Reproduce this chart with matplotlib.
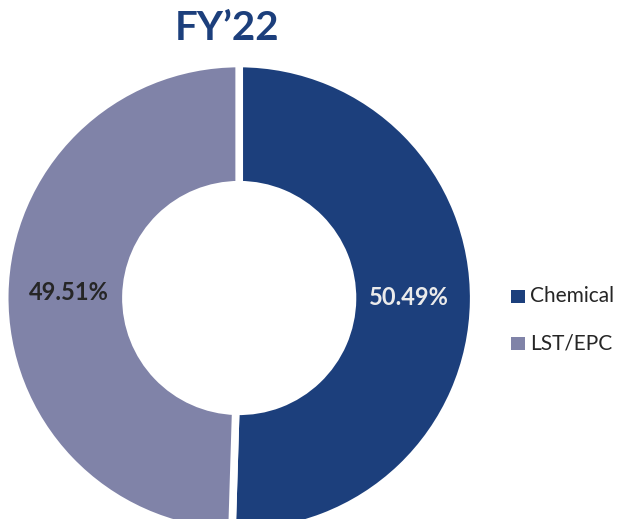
import matplotlib
matplotlib.use("Agg")
import matplotlib.pyplot as plt
from matplotlib.patches import Rectangle

categories = ["Chemical", "LST/EPC"]
values = [50.49, 49.51]
colors = ["#1c3f7c", "#8083a8"]
label_colors = ["#ebebeb", "#262626"]
title = "FY\u201922"

W, H = 621, 519
fig = plt.figure(figsize=(W / 100, H / 100), dpi=100)
ax = fig.add_axes([0, 0, 1, 1])

cx, cy, R = 239.2, 298, 234.5
wedges, texts, autotexts = ax.pie(
    values, colors=colors, startangle=90, counterclock=False,
    radius=1, autopct=lambda p: f"{p:.2f}%", pctdistance=0.725,
    wedgeprops=dict(width=0.517, edgecolor="white", linewidth=5.5),
    textprops=dict(family=["Lato", "DejaVu Sans"], fontsize=17, fontweight="bold"))
for t, c in zip(autotexts, label_colors):
    t.set_color(c)
    x, y = t.get_position()
    t.set_position((x, y + 3 / R))

ax.set_xlim(-cx / R, (W - cx) / R)
ax.set_ylim(-(H - cy) / R, cy / R)
ax.set_aspect("equal")
ax.axis("off")

fig.text(227 / W, 1 - 28 / H, title, ha="center", va="center",
         fontsize=29, fontweight="bold", color="#1c3f7c",
         family=["Lato", "DejaVu Sans"])

# legend
for i, (lab, col) in enumerate(zip(categories, colors)):
    yc = 296.5 + i * 47
    fig.patches.append(Rectangle((511 / W, 1 - (yc + 6.5) / H), 14 / W, 13 / H,
                                 transform=fig.transFigure, facecolor=col, edgecolor="none"))
    fig.text(530 / W, 1 - yc / H, lab, ha="left", va="center", fontsize=15,
             color="#262626", family=["Lato", "DejaVu Sans"])

fig.savefig("out.png", dpi=100)
